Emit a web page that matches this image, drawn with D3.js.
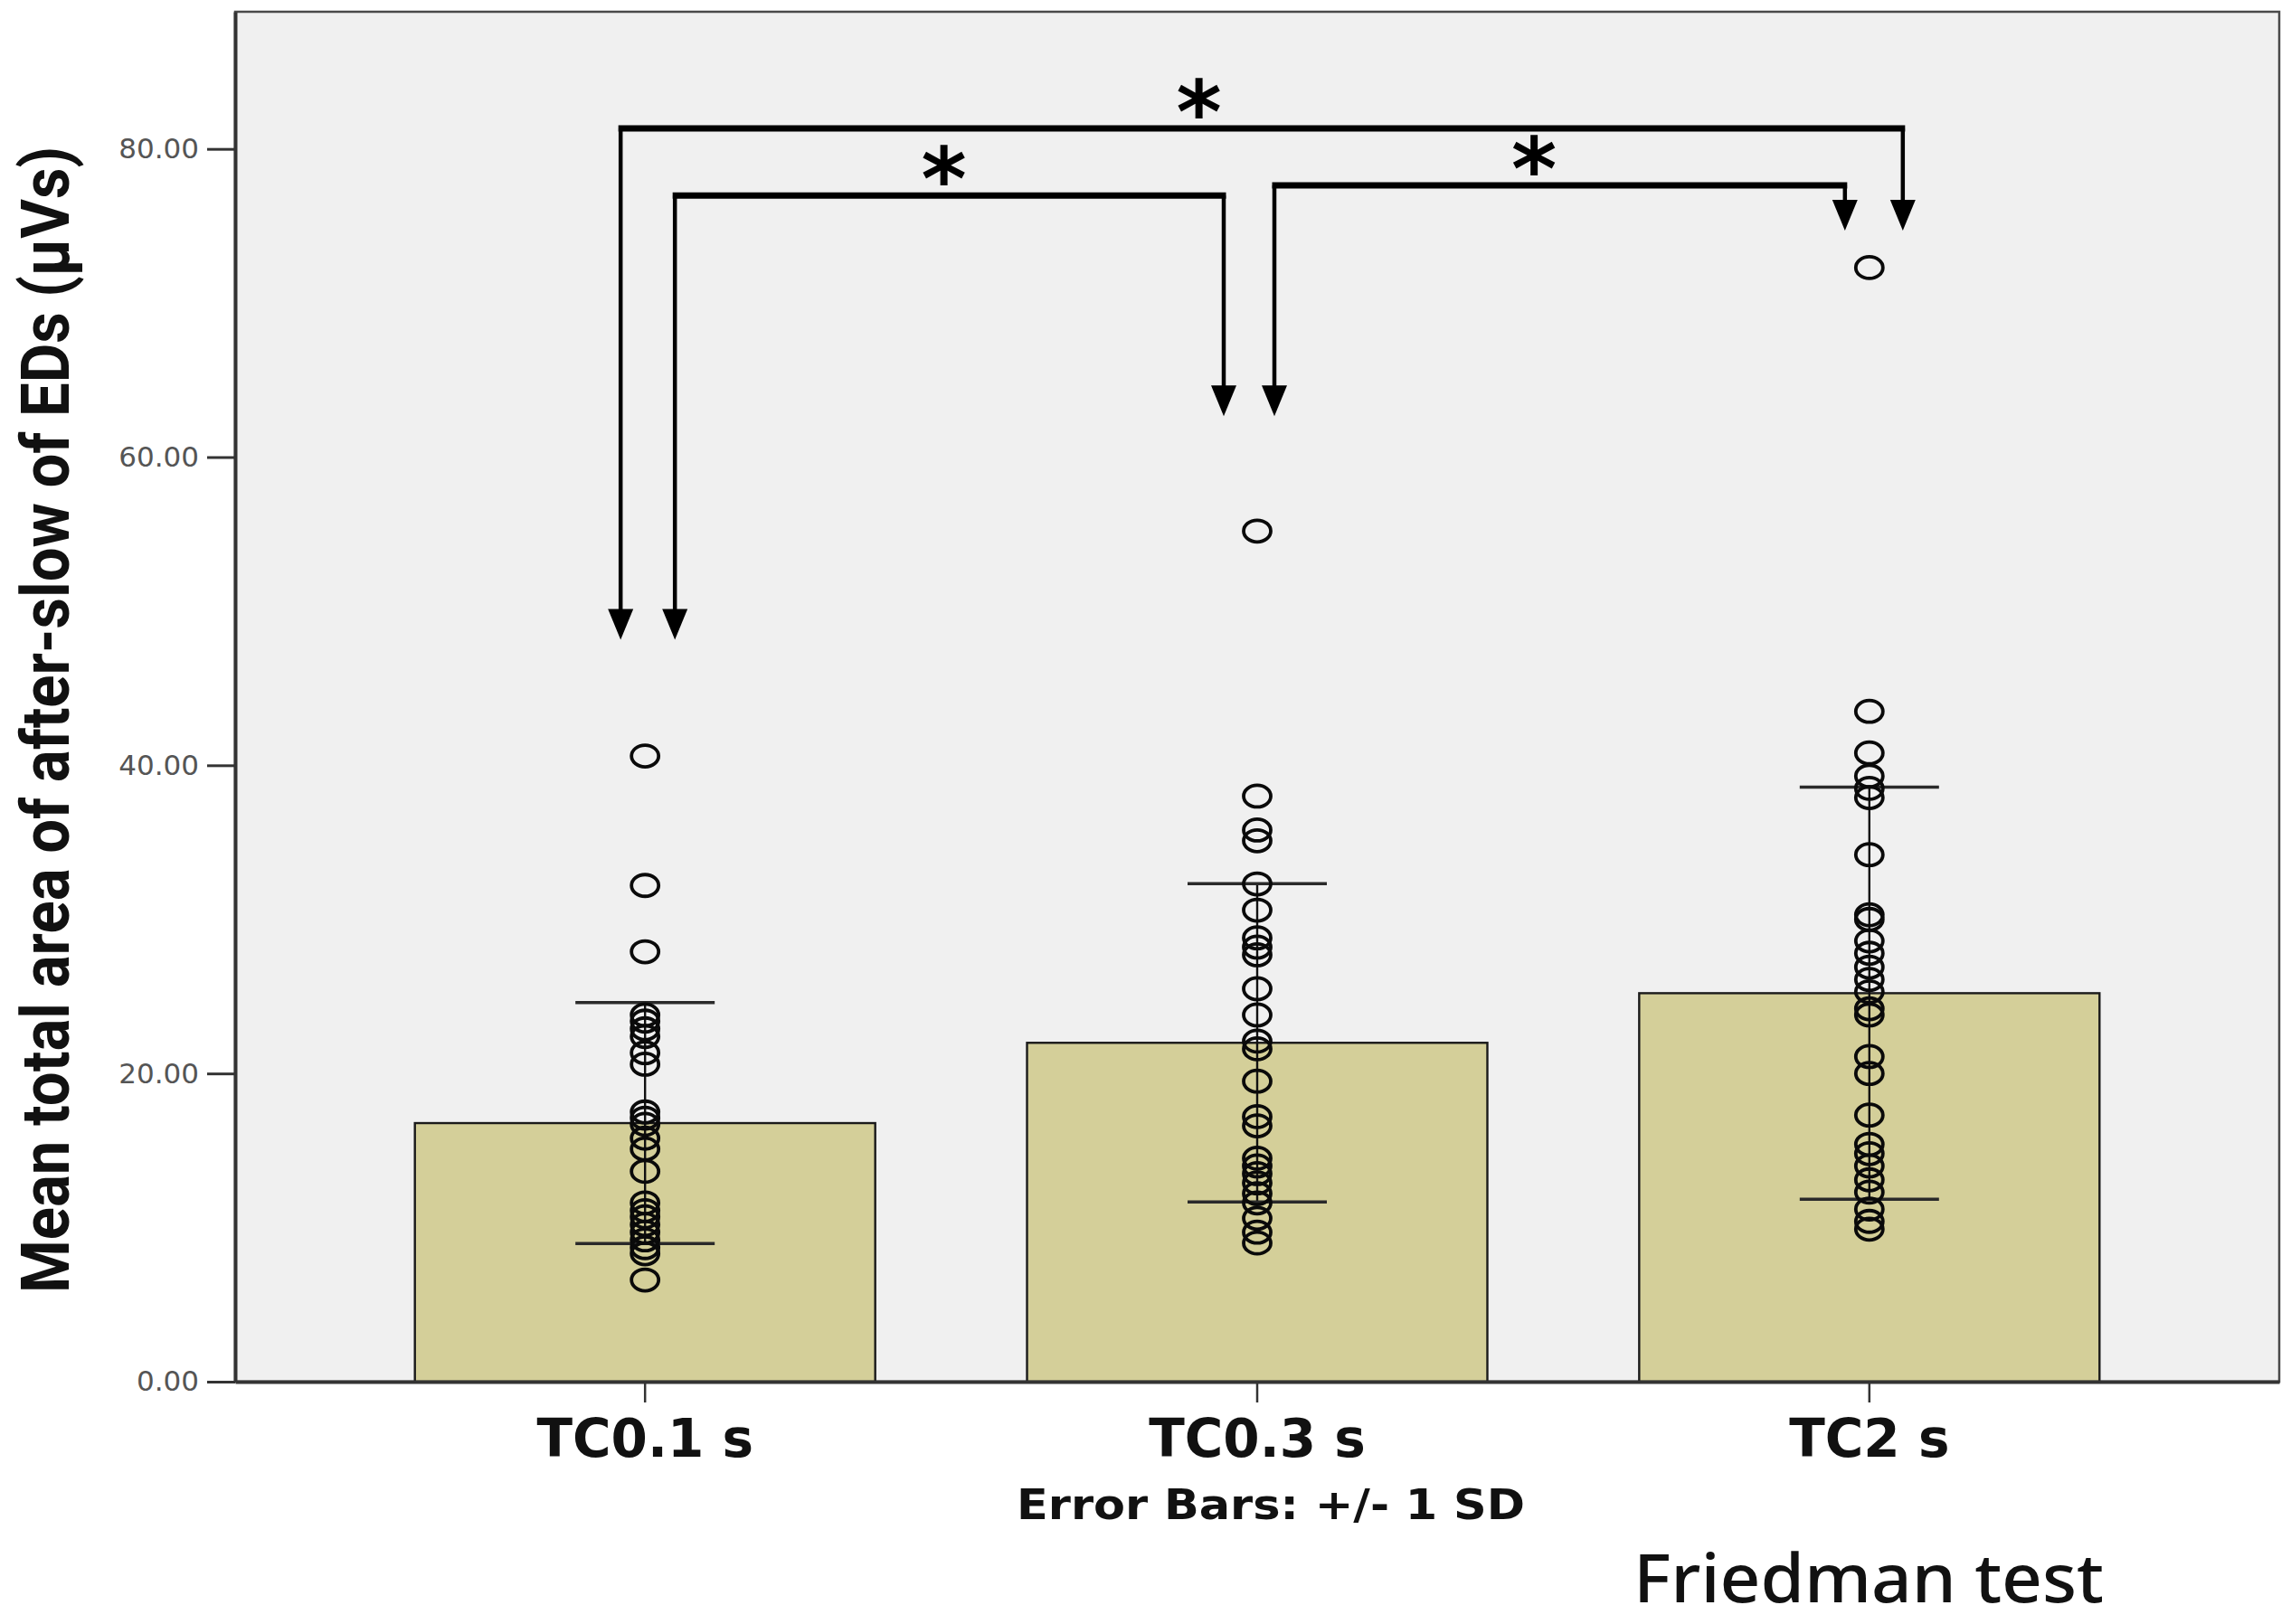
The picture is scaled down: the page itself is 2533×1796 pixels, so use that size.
<!DOCTYPE html>
<html>
<head>
<meta charset="utf-8">
<script src="https://cdn.jsdelivr.net/npm/d3@7"></script>
<style>
  html, body { margin: 0; padding: 0; background: #ffffff; }
  svg { display: block; }
</style>
</head>
<body>
<svg id="chart" width="2533" height="1796"></svg>
<script>
// ---------------- data ----------------
const categories = ["TC0.1 s", "TC0.3 s", "TC2 s"];
const means = [16.78, 21.99, 25.21];
const sds = [7.82, 10.33, 13.37];
const yTicks = [0, 20, 40, 60, 80];

const pointsTC01 = [40.6, 32.2, 27.9, 23.8, 23.4, 22.9, 22.4, 21.35, 20.6, 17.5, 17.1, 16.7,
                    15.8, 15.1, 13.65, 11.6, 11.1, 10.7, 10.2, 9.7, 9.2, 8.7, 8.3, 6.6];
const pointsTC03 = [55.2, 38.0, 35.8, 35.1, 32.3, 30.6, 28.8, 28.2, 27.7, 25.5, 23.8, 22.1,
                    21.6, 19.5, 17.2, 16.6, 14.5, 14.0, 13.5, 12.9, 12.2, 11.6, 10.6, 9.7, 9.0];
const pointsTC2  = [72.3, 43.5, 40.8, 39.3, 38.5, 37.9, 34.2, 30.3, 30.0, 28.6, 27.8, 26.9,
                    26.1, 25.3, 24.2, 23.8, 21.1, 20.0, 17.3, 15.4, 14.8, 14.0, 13.1, 12.3,
                    11.2, 10.4, 9.9];
const pointSets = [pointsTC01, pointsTC03, pointsTC2];

// significance comparisons (Friedman post-hoc): from/to categories, bracket level and arrow tips (data units)
const compFrom  = ["TC0.1 s", "TC0.1 s", "TC0.3 s"];
const compTo    = ["TC2 s",   "TC0.3 s", "TC2 s"];
const compLevel = [81.33, 76.97, 77.63];
const compTipFrom = [48.15, 48.15, 62.65];
const compTipTo   = [74.7, 62.65, 74.7];
const compLabel = ["*", "*", "*"];

const yTitle = "Mean total area of after-slow of EDs (\u03bcVs)";
const errorNote = "Error Bars: +/- 1 SD";
const testNote = "Friedman test";

// ---------------- layout ----------------
const plot = { left: 260, right: 2520, top: 13, bottom: 1528 };

const svg = d3.select("#chart");

const x = d3.scaleBand().domain(categories)
  .range([plot.left, plot.right]).paddingInner(0.248).paddingOuter(0.2936);
const y = d3.scaleLinear().domain([0, 88.9]).range([plot.bottom, plot.top]);
const cx = c => x(c) + x.bandwidth() / 2;

// plot background
svg.append("rect")
  .attr("x", plot.left).attr("y", plot.top)
  .attr("width", plot.right - plot.left).attr("height", plot.bottom - plot.top)
  .attr("fill", "#f0f0f0").attr("stroke", "#4a4a4a").attr("stroke-width", 2.5);

// bars
svg.append("g").selectAll("rect").data(categories).join("rect")
  .attr("x", d => x(d)).attr("width", x.bandwidth())
  .attr("y", (d, i) => y(means[i])).attr("height", (d, i) => y(0) - y(means[i]))
  .attr("fill", "#d4cf99").attr("stroke", "#1a1a1a").attr("stroke-width", 2.4);

// error bars
const eg = svg.append("g");
categories.forEach((c, i) => {
  const hi = means[i] + sds[i], lo = means[i] - sds[i];
  eg.append("line").attr("x1", cx(c)).attr("x2", cx(c))
    .attr("y1", y(hi)).attr("y2", y(lo)).attr("stroke", "#111").attr("stroke-width", 2.4);
  [hi, lo].forEach(v => {
    eg.append("line").attr("x1", cx(c) - 77).attr("x2", cx(c) + 77)
      .attr("y1", y(v)).attr("y2", y(v)).attr("stroke", "#2a2a2a").attr("stroke-width", 3.6);
  });
});

// individual points
const pg = svg.append("g");
categories.forEach((c, i) => {
  pg.selectAll(null).data(pointSets[i]).join("ellipse")
    .attr("cx", cx(c)).attr("cy", d => y(d))
    .attr("rx", 15).attr("ry", 12)
    .attr("fill", "none").attr("stroke", "#0a0a0a").attr("stroke-width", 3.8);
});

// y axis
const yAxis = svg.append("g").attr("transform", `translate(${plot.left},0)`)
  .call(d3.axisLeft(y).tickValues(yTicks).tickFormat(d3.format(".2f"))
    .tickSize(31).tickSizeOuter(0).tickPadding(9));
yAxis.select(".domain").attr("stroke", "#333").attr("stroke-width", 4);
yAxis.selectAll(".tick line").attr("stroke", "#333").attr("stroke-width", 3);
yAxis.selectAll(".tick text")
  .attr("font-family", "'DejaVu Sans', Verdana, sans-serif").attr("font-size", 31)
  .attr("fill", "#555");

// x axis
const xAxis = svg.append("g").attr("transform", `translate(0,${plot.bottom})`)
  .call(d3.axisBottom(x).tickSize(23).tickSizeOuter(0).tickPadding(19));
xAxis.select(".domain").attr("stroke", "#333").attr("stroke-width", 4);
xAxis.selectAll(".tick line").attr("stroke", "#333").attr("stroke-width", 2.5);
xAxis.selectAll(".tick text")
  .attr("font-family", "'DejaVu Sans', Verdana, sans-serif").attr("font-size", 58)
  .attr("font-weight", "bold").attr("fill", "#111");

// y title
svg.append("text")
  .attr("transform", `translate(76,${(162 + 1430) / 2}) rotate(-90)`)
  .attr("text-anchor", "middle")
  .attr("font-family", "'Roboto', 'Liberation Sans', sans-serif").attr("font-weight", "bold")
  .attr("font-size", 74).attr("textLength", 1268).attr("lengthAdjust", "spacingAndGlyphs")
  .attr("fill", "#111").text(yTitle);

// notes
svg.append("text").attr("x", 1405).attr("y", 1680).attr("text-anchor", "middle")
  .attr("font-family", "'DejaVu Sans', Verdana, sans-serif").attr("font-weight", "bold")
  .attr("font-size", 46).attr("textLength", 562).attr("lengthAdjust", "spacingAndGlyphs")
  .attr("fill", "#111").text(errorNote);
svg.append("text").attr("x", 1806).attr("y", 1772)
  .attr("font-family", "'Noto Sans', 'Open Sans', sans-serif").attr("font-weight", 500)
  .attr("font-size", 74).attr("textLength", 520).attr("lengthAdjust", "spacingAndGlyphs")
  .attr("fill", "#111").text(testNote);

// significance brackets with arrows
const offFrom = [-27, 33, 19];
const offTo = [37, -37, -27];
const starFrac = [0.451, 0.49, 0.455];
const ag = svg.append("g");
const arrowHead = (px, tipY) => {
  ag.append("path")
    .attr("d", `M${px - 14},${tipY - 34} L${px + 14},${tipY - 34} L${px},${tipY} Z`)
    .attr("fill", "#000");
};
compFrom.forEach((f, i) => {
  const x1 = cx(f) + offFrom[i], x2 = cx(compTo[i]) + offTo[i];
  const ly = y(compLevel[i]);
  ag.append("line").attr("x1", x1 - 2.5).attr("x2", x2 + 2.5).attr("y1", ly).attr("y2", ly)
    .attr("stroke", "#000").attr("stroke-width", 7);
  ag.append("line").attr("x1", x1).attr("x2", x1).attr("y1", ly).attr("y2", y(compTipFrom[i]) - 30)
    .attr("stroke", "#000").attr("stroke-width", 4.5);
  ag.append("line").attr("x1", x2).attr("x2", x2).attr("y1", ly).attr("y2", y(compTipTo[i]) - 30)
    .attr("stroke", "#000").attr("stroke-width", 4.5);
  arrowHead(x1, y(compTipFrom[i]));
  arrowHead(x2, y(compTipTo[i]));
  ag.append("text").attr("x", x1 + (x2 - x1) * starFrac[i]).attr("y", ly + 16)
    .attr("text-anchor", "middle")
    .attr("font-family", "'DejaVu Sans', sans-serif").attr("font-weight", "bold")
    .attr("font-size", 96)
    .attr("fill", "#000").text(compLabel[i]);
});
</script>
</body>
</html>
